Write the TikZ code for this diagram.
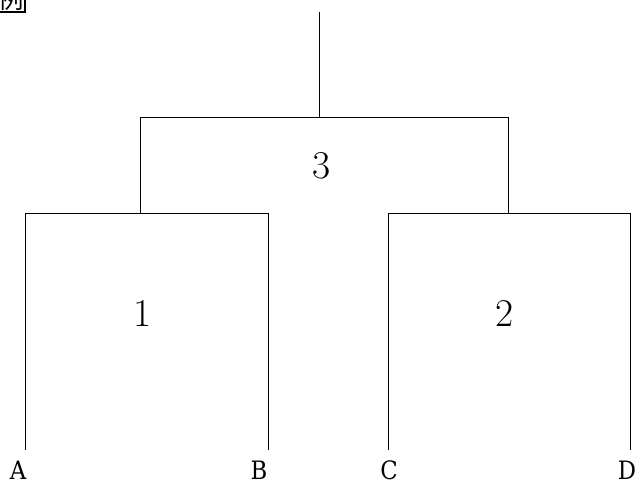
\documentclass[tikz,border=0pt]{standalone}
\usepackage{fontspec}
\usepackage{tikz}
\newfontfamily\leaffont{DejaVu Serif Condensed}
\newfontfamily\cjkfont{Noto Sans CJK JP}

\tikzset{
  leaf/.style={inner sep=0pt, font=\leaffont\fontsize{18}{20}\selectfont},
  merge/.style={inner sep=0pt, font=\fontsize{28}{30}\selectfont},
  branch/.style={line width=0.6pt}
}

\begin{document}
\begin{tikzpicture}[x=0.025cm, y=-0.025cm]
    \useasboundingbox (0,0) rectangle (638,484);

    % Example tag (clipped at the corner)
    \node[draw, line width=1.2pt, inner sep=1pt, anchor=south east,
          font=\cjkfont\fontsize{18}{20}\selectfont] (tag) at (26,13) {例};

    % Leaves
    \node[leaf] (A) at (18,470) {A};
    \node[leaf] (B) at (259,470) {B};
    \node[leaf] (C) at (389,470) {C};
    \node[leaf] (D) at (627,470) {D};
    \coordinate (a) at (25,450);
    \coordinate (b) at (268,450);
    \coordinate (c) at (388,450);
    \coordinate (d) at (630,450);

    % Joints
    \coordinate (j1) at (140,213);
    \coordinate (j2) at (508,213);
    \coordinate (j3) at (319,117);
    \coordinate (top) at (319,12);

    % Clusters 1 and 2
    \draw[branch] (a) -- (a |- j1) -- (b |- j1) -- (b);
    \draw[branch] (c) -- (c |- j2) -- (d |- j2) -- (d);

    % Cluster 3
    \draw[branch] (j1) -- (j1 |- j3) -- (j2 |- j3) -- (j2);
    \draw[branch] (j3) -- (top);

    % Labels
    \node[merge] (m1) at (143,313) {1};
    \node[merge] (m2) at (505,313) {2};
    \node[merge] (m3) at (322,166) {3};
\end{tikzpicture}
\end{document}
